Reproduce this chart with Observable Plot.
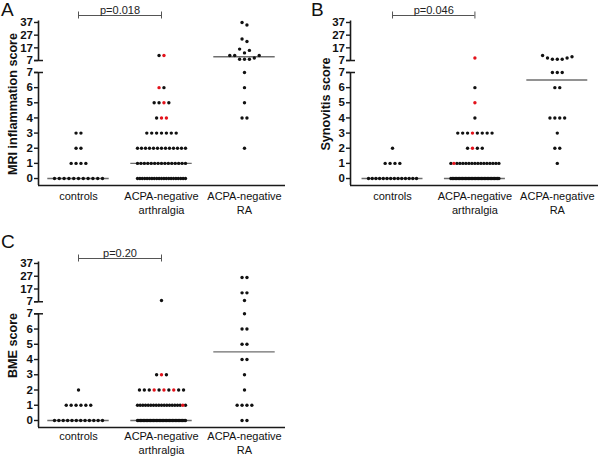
<!DOCTYPE html>
<html><head><meta charset="utf-8">
<script src="https://cdn.jsdelivr.net/npm/d3@7"></script>
<script src="https://cdn.jsdelivr.net/npm/@observablehq/plot@0.6"></script>
<style>
body{margin:0;background:#fff;font-family:"Liberation Sans",Arial,sans-serif;}
#wrap{position:relative;width:600px;height:457px;overflow:hidden;background:#fff;}
#wrap svg{position:absolute;overflow:visible;}
.letter{position:absolute;font-size:19px;line-height:19px;color:#111;}
</style></head><body><div id="wrap"></div>
<script>
// ---------- data ----------
const categories = ["controls", "ACPA-negative\narthralgia", "ACPA-negative\nRA"];
const lowerTicks = [0, 1, 2, 3, 4, 5, 6, 7];
const upperTicks = [7, 17, 27, 37];

// Panel A: MRI inflammation score
const mriControls = [0,0,0,0,0,0,0,0,0,0,0, 1,1,1,1, 2,2, 3,3];
const mriArthralgia = [
  0,0,0,0,0,0,0,0,0,0,0,0,0,0,0,0,0,0,0,0,0,
  1,1,1,1,1,1,1,1,1,1,1,1,1,1,1,
  2,2,2,2,2,2,2,2,2,2,2,2,2,
  3,3,3,3,3,3,3,
  4,4,4, 5,5,5,5, 6,6, 11,11];
const mriArthralgiaRed = [[11,1],[6,0],[5,2],[4,1],[4,2]]; // [value, slot in row]
const mriRA = [37,35,24,22,16,15,13,11,11,11,9,8,8,8,7,6,5,4,4,2];
const mriP = "p=0.018";

// Panel B: synovitis score
const synControls = [0,0,0,0,0,0,0,0,0,0,0,0,0,0, 1,1,1,1, 2];
const synArthralgia = [
  0,0,0,0,0,0,0,0,0,0,0,0,0,0,0,0,0,0,0,0,0,0,0,0,0,0,0,0,0,0,0,0,0,0,
  1,1,1,1,1,1,1,1,1,1,1,1,1,1,1,1,1,
  2,2,2,2,
  3,3,3,3,3,3,3,3,
  4, 5, 6, 9];
const synArthralgiaRed = [[9,0],[5,0],[3,3],[2,1],[1,1]];
const synRA = [11,10,9,9,8,8,8,7,7,7,6,6,4,4,4,4,3,2,2,1];
const synP = "p=0.046";

// Panel C: BME score
const bmeControls = [0,0,0,0,0,0,0,0,0,0,0,0, 1,1,1,1,1,1, 2];
const bmeArthralgia = [
  0,0,0,0,0,0,0,0,0,0,0,0,0,0,0,0,0,0,0,0,0,0,0,0,0,0,0,0,0,0,0,0,0,0,
  1,1,1,1,1,1,1,1,1,1,1,1,1,1,1,1,1,1,1,
  2,2,2,2,2,2,2,2,2,2,
  3,3,3, 8];
const bmeArthralgiaRed = [[3,1],[2,3],[2,5],[2,7],[1,17]];
const bmeRA = [26,26,14,14,8,7,6,6,5,5,4,4,3,2,1,1,1,1,0,0];
const bmeP = "p=0.20";

// ---------- broken-axis transform ----------
const GAP = 0.79, UPPER = 0.0837;
const posUpper = v => 7 + GAP + (v - 7) * UPPER;
const pos = v => v <= 7 ? v : posUpper(v);
const tickPositions = [...lowerTicks.map(v => v), ...upperTicks.map(posUpper)];
const tickLabel = p => p <= 7.0001 ? String(Math.round(p)) : String(Math.round(7 + (p - 7 - GAP) / UPPER));

function layoutGroup(values, red, xc, pxX, pxY) {
  const items = values.map(v => ({v, p: pos(v)})).sort((a, b) => b.p - a.p || b.v - a.v);
  const clusters = [];
  for (const it of items) {
    const c = clusters[clusters.length - 1];
    if (c && (c[0].p - it.p) * pxY <= 4.5) c.push(it); else clusters.push([it]);
  }
  const out = [];
  for (const c of clusters) {
    const s = [...c].sort((a, b) => b.v - a.v);
    const left = [], right = [];
    s.forEach((it, i) => (i % 2 === 0 ? left : right).push(it));
    const row = left.concat(right.reverse());
    const n = row.length;
    const sp = n > 1 ? Math.min(4.9, 48 / (n - 1)) : 0;
    row.forEach((it, i) => {
      const isRed = red.some(([rv, slot]) => rv === it.v && slot === i);
      out.push({x: xc + (i - (n - 1) / 2) * sp / pxX, y: it.p, red: isRed});
    });
  }
  return out;
}

function panel(cfg) {
  const {width, height, ml, mr, mt, mb, xDomain, yDomain, groups, title, titleDx, p, bracketPx, xPad} = cfg;
  const pxX = (width - ml - mr) / (xDomain[1] - xDomain[0]);
  const pxY = (height - mt - mb) / (yDomain[1] - yDomain[0]);
  let dots = [];
  groups.forEach((g, gi) => { dots = dots.concat(layoutGroup(g.values, g.red || [], gi + 1, pxX, pxY)); });
  dots.sort((a, b) => a.red - b.red);
  const medians = groups.map((g, gi) => ({x1: gi + 1 - 0.37, x2: gi + 1 + 0.37, y: pos(d3.median(g.values))}));
  const x0 = xDomain[0];
  const axisSegs = [
    {x: x0, y1: yDomain[0], y2: pos(7)},
    {x: x0, y1: posUpper(7), y2: posUpper(37) + 1.5 / pxY}
  ];
  const breakTicks = [
    {y: pos(7), x1: x0 - 4 / pxX, x2: x0 + 5 / pxX},
    {y: posUpper(7), x1: x0 - 4 / pxX, x2: x0 + 5 / pxX}
  ];
  const bY = yDomain[1] + (mt - bracketPx) / pxY;
  const tH = 3.5 / pxY;
  return Plot.plot({
    width, height, marginLeft: ml, marginRight: mr, marginTop: mt, marginBottom: mb,
    x: {domain: xDomain},
    y: {domain: yDomain},
    style: {fontFamily: "Liberation Sans, Arial, sans-serif", fontSize: "11px", color: "#111", background: "transparent", overflow: "visible"},
    marks: [
      Plot.ruleY(medians, {x1: "x1", x2: "x2", y: "y", stroke: "#6e6e6e", strokeWidth: 1.4}),
      Plot.dot(dots, {x: "x", y: "y", r: 1.7, fill: d => d.red ? "#e3121b" : "#111", stroke: null}),
      Plot.ruleX(axisSegs, {x: "x", y1: "y1", y2: "y2", stroke: "#1a1a1a", strokeWidth: 1.6}),
      Plot.ruleY([{y: yDomain[0]}], {y: "y", x1: xDomain[0], x2: xDomain[1], stroke: "#1a1a1a", strokeWidth: 1.6}),
      Plot.ruleY(breakTicks, {y: "y", x1: "x1", x2: "x2", stroke: "#1a1a1a", strokeWidth: 1.5}),
      Plot.axisY(tickPositions, {tickFormat: tickLabel, tickSize: 4, tickPadding: 1.5, fontWeight: "bold", fontSize: 11.5, label: null, stroke: "#1a1a1a", strokeWidth: 1.4}),
      Plot.axisX([1, 2, 3], {tickFormat: i => categories[i - 1], tickSize: 0, tickPadding: xPad, fontSize: 11, lineHeight: 1.3, label: null}),
      Plot.text([title], {text: d => d, frameAnchor: "left", textAnchor: "middle", lineAnchor: "middle", rotate: -90, dx: titleDx, fontWeight: "bold", fontSize: 12.6, fill: "#111"}),
      Plot.ruleY([{y: bY}], {y: "y", x1: 1, x2: 2, stroke: "#555", strokeWidth: 1}),
      Plot.ruleX([{x: 1}, {x: 2}], {x: "x", y1: bY - tH, y2: bY + tH, stroke: "#555", strokeWidth: 1}),
      Plot.text([p], {text: d => d, x: 1.5, y: bY, lineAnchor: "bottom", dy: -2, fontSize: 11, fill: "#222"})
    ]
  });
}

const wrap = document.getElementById("wrap");
function place(svg, left, top) { svg.style.left = left + "px"; svg.style.top = top + "px"; wrap.appendChild(svg); }

place(panel({
  width: 300, height: 230, ml: 38, mr: 15, mt: 22, mb: 45,
  xDomain: [0.518, 3.494], yDomain: [-0.46, 10.30],
  groups: [{values: mriControls}, {values: mriArthralgia, red: mriArthralgiaRed}, {values: mriRA}],
  title: "MRI inflammation score", titleDx: -26, p: mriP, bracketPx: 15, xPad: 4
}), 0, 0);

place(panel({
  width: 300, height: 230, ml: 50, mr: 2, mt: 22, mb: 45,
  xDomain: [0.49, 3.5], yDomain: [-0.46, 10.30],
  groups: [{values: synControls}, {values: synArthralgia, red: synArthralgiaRed}, {values: synRA}],
  title: "Synovitis score", titleDx: -25, p: synP, bracketPx: 15, xPad: 4
}), 300, 0);

place(panel({
  width: 300, height: 227, ml: 38, mr: 15, mt: 33, mb: 30,
  xDomain: [0.518, 3.494], yDomain: [-0.46, 10.30],
  groups: [{values: bmeControls}, {values: bmeArthralgia, red: bmeArthralgiaRed}, {values: bmeRA}],
  title: "BME score", titleDx: -26, p: bmeP, bracketPx: 28, xPad: 2.5
}), 0, 230);

[["A", 1, 0], ["B", 311, 0], ["C", 1, 232]].forEach(([t, l, tp]) => {
  const d = document.createElement("div");
  d.className = "letter"; d.textContent = t; d.style.left = l + "px"; d.style.top = tp + "px";
  wrap.appendChild(d);
});
</script></body></html>
